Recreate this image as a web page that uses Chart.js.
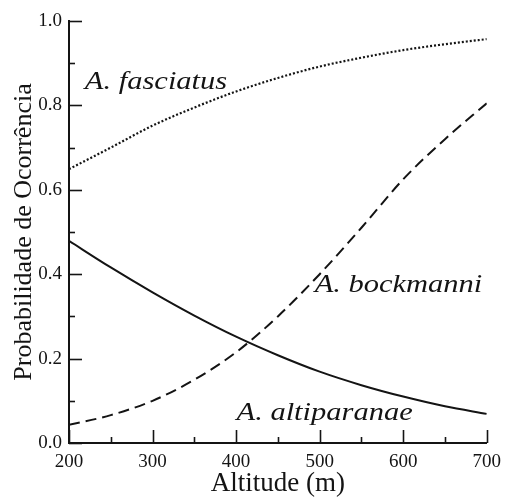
<!DOCTYPE html>
<html>
<head>
<meta charset="utf-8">
<script src="https://cdn.jsdelivr.net/npm/chart.js@4.4.0/dist/chart.umd.min.js"></script>
<style>
  html, body { margin: 0; padding: 0; background: #fff; }
  canvas { display: block; }
</style>
</head>
<body>
<canvas id="chart" width="509" height="502"></canvas>
<script>
// Altitude (m) and fitted probability of occurrence for each species
const altitudes   = [200, 250, 300, 350, 400, 450, 500, 550, 600, 650, 700];
const fasciatus   = [0.649, 0.700, 0.752, 0.795, 0.833, 0.865, 0.892, 0.913, 0.931, 0.945, 0.957];
const bockmanni   = [0.043, 0.066, 0.100, 0.150, 0.215, 0.300, 0.400, 0.510, 0.625, 0.720, 0.805];
const altiparanae = [0.479, 0.416, 0.357, 0.302, 0.252, 0.208, 0.169, 0.137, 0.110, 0.087, 0.069];

const xTickLabels = [200, 300, 400, 500, 600, 700];
const yTickLabels = [0.0, 0.2, 0.4, 0.6, 0.8, 1.0];
const speciesNames = ['A. fasciatus', 'A. bockmanni', 'A. altiparanae'];

const serif = '"Liberation Serif", "Times New Roman", serif';
const ink = '#141414';

const pts = ys => altitudes.map((x, i) => ({ x, y: ys[i] }));

// kleine Striche nach innen, lange bei beschrifteten Werten
const innerTicks = {
    id: 'innerTicks',
    afterDraw(chart) {
        const { ctx, chartArea, scales } = chart;
        ctx.save();
        ctx.strokeStyle = ink;
        ctx.lineWidth = 1.6;
        scales.x.ticks.forEach(t => {
            const px = Math.round(scales.x.getPixelForValue(t.value)) + 0.5;
            const len = xTickLabels.includes(t.value) ? 13 : 6;
            ctx.beginPath();
            ctx.moveTo(px, chartArea.bottom);
            ctx.lineTo(px, chartArea.bottom - len);
            ctx.stroke();
        });
        scales.y.ticks.forEach(t => {
            const py = Math.round(scales.y.getPixelForValue(t.value)) + 0.5;
            const major = yTickLabels.some(v => Math.abs(v - t.value) < 1e-6);
            ctx.beginPath();
            ctx.moveTo(chartArea.left, py);
            ctx.lineTo(chartArea.left + (major ? 13 : 6), py);
            ctx.stroke();
        });
        ctx.restore();
    }
};

// Artnamen neben den Kurven
const speciesLabels = {
    id: 'speciesLabels',
    afterDatasetsDraw(chart, args, opts) {
        const { ctx, scales } = chart;
        ctx.save();
        ctx.fillStyle = ink;
        ctx.font = 'italic 25px ' + serif;
        ctx.textBaseline = 'alphabetic';
        ctx.textAlign = 'left';
        opts.items.forEach(it => {
            ctx.save();
            ctx.translate(scales.x.getPixelForValue(it.x), scales.y.getPixelForValue(it.y));
            ctx.scale(1.22, 1);
            ctx.fillText(it.text, 0, 0);
            ctx.restore();
        });
        ctx.restore();
    }
};

const line = (label, ys, dash, width) => ({
    label,
    data: pts(ys),
    borderColor: ink,
    borderWidth: width,
    borderDash: dash,
    pointRadius: 0,
    fill: false,
    cubicInterpolationMode: 'monotone'
});

new Chart(document.getElementById('chart').getContext('2d'), {
    type: 'line',
    data: {
        datasets: [
            line(speciesNames[0], fasciatus, [2, 2], 2.2),
            line(speciesNames[1], bockmanni, [11, 6], 2),
            line(speciesNames[2], altiparanae, [], 2)
        ]
    },
    options: {
        responsive: false,
        animation: false,
        layout: { padding: { top: 21, right: 18, bottom: 0, left: 0 } },
        plugins: {
            legend: { display: false },
            tooltip: { enabled: false },
            speciesLabels: {
                items: [
                    { text: speciesNames[0], x: 219, y: 0.838 },
                    { text: speciesNames[1], x: 494, y: 0.359 },
                    { text: speciesNames[2], x: 400.5, y: 0.0545 }
                ]
            }
        },
        scales: {
            x: {
                type: 'linear',
                min: 200,
                max: 700,
                afterFit: s => { s.height = 59; },
                grid: { display: true, drawOnChartArea: false, drawTicks: false },
                border: { display: true, color: ink, width: 2 },
                ticks: {
                    stepSize: 50,
                    padding: 8,
                    color: ink,
                    font: { family: serif, size: 19 },
                    maxRotation: 0,
                    autoSkip: false,
                    callback: v => xTickLabels.includes(v) ? String(v) : ''
                },
                title: {
                    display: true,
                    text: 'Altitude (m)',
                    color: ink,
                    font: { family: serif, size: 27 },
                    padding: { top: 0, bottom: 2 }
                }
            },
            y: {
                min: 0,
                max: 1,
                afterFit: s => { s.width = 69; },
                grid: { display: true, drawOnChartArea: false, drawTicks: false },
                border: { display: true, color: ink, width: 2 },
                ticks: {
                    stepSize: 0.1,
                    padding: 7,
                    color: ink,
                    font: { family: serif, size: 19 },
                    autoSkip: false,
                    callback: v => yTickLabels.some(t => Math.abs(t - v) < 1e-6) ? v.toFixed(1) : ''
                },
                title: {
                    display: true,
                    text: 'Probabilidade de Ocorrência',
                    color: ink,
                    font: { family: serif, size: 26 },
                    padding: { top: 9, bottom: 0 }
                }
            }
        }
    },
    plugins: [innerTicks, speciesLabels]
});
</script>
</body>
</html>
